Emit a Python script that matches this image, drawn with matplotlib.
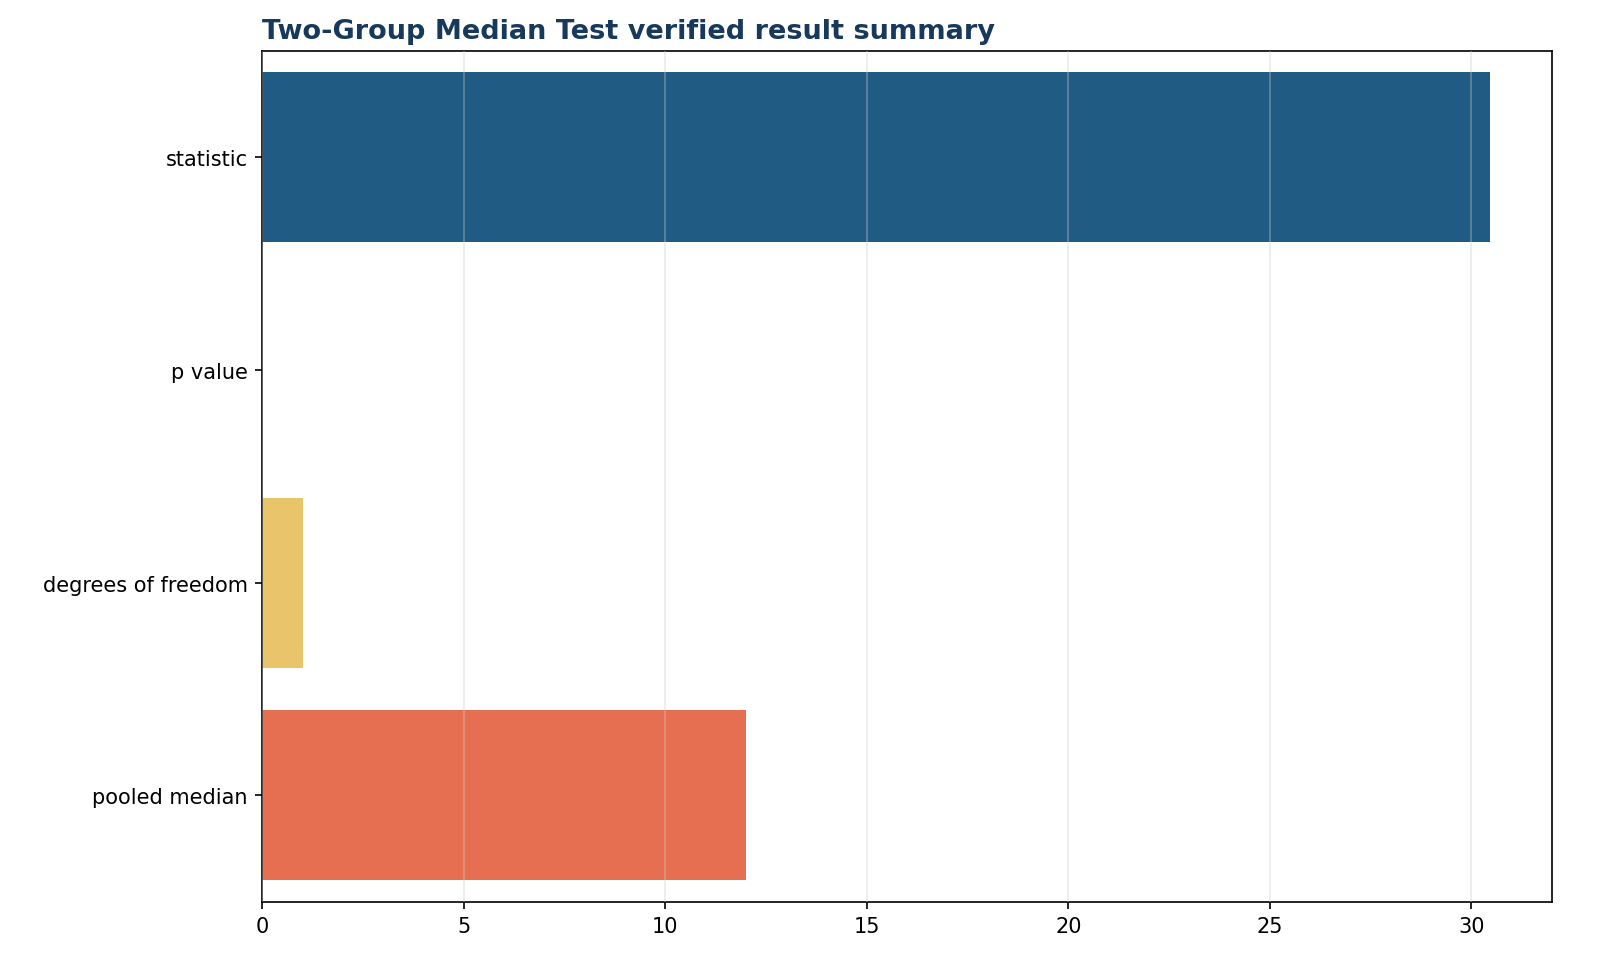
import matplotlib
matplotlib.use("Agg")
import matplotlib.pyplot as plt

labels = ["statistic", "p value", "degrees of freedom", "pooled median"]
values = [30.45, 1.9e-8, 1, 12]
colors = ["#1f5b82", "#2a9d8f", "#e9c46a", "#e76f51"]

fig = plt.figure(figsize=(10.667, 6.52), dpi=150)
ax = fig.add_axes([0.164, 0.077, 0.806, 0.870])

ax.barh(labels, values, color=colors, height=0.8)
ax.invert_yaxis()
ax.set_xlim(0, 32)
ax.set_ylim(3.5, -0.5)
ax.grid(axis="x", color="#cccccc", alpha=0.4, linewidth=0.8)
ax.set_axisbelow(False)
ax.set_title("Two-Group Median Test verified result summary", loc="left",
             fontsize=13, fontweight="bold", color="#17395c")

fig.savefig("out.png", dpi=150)
